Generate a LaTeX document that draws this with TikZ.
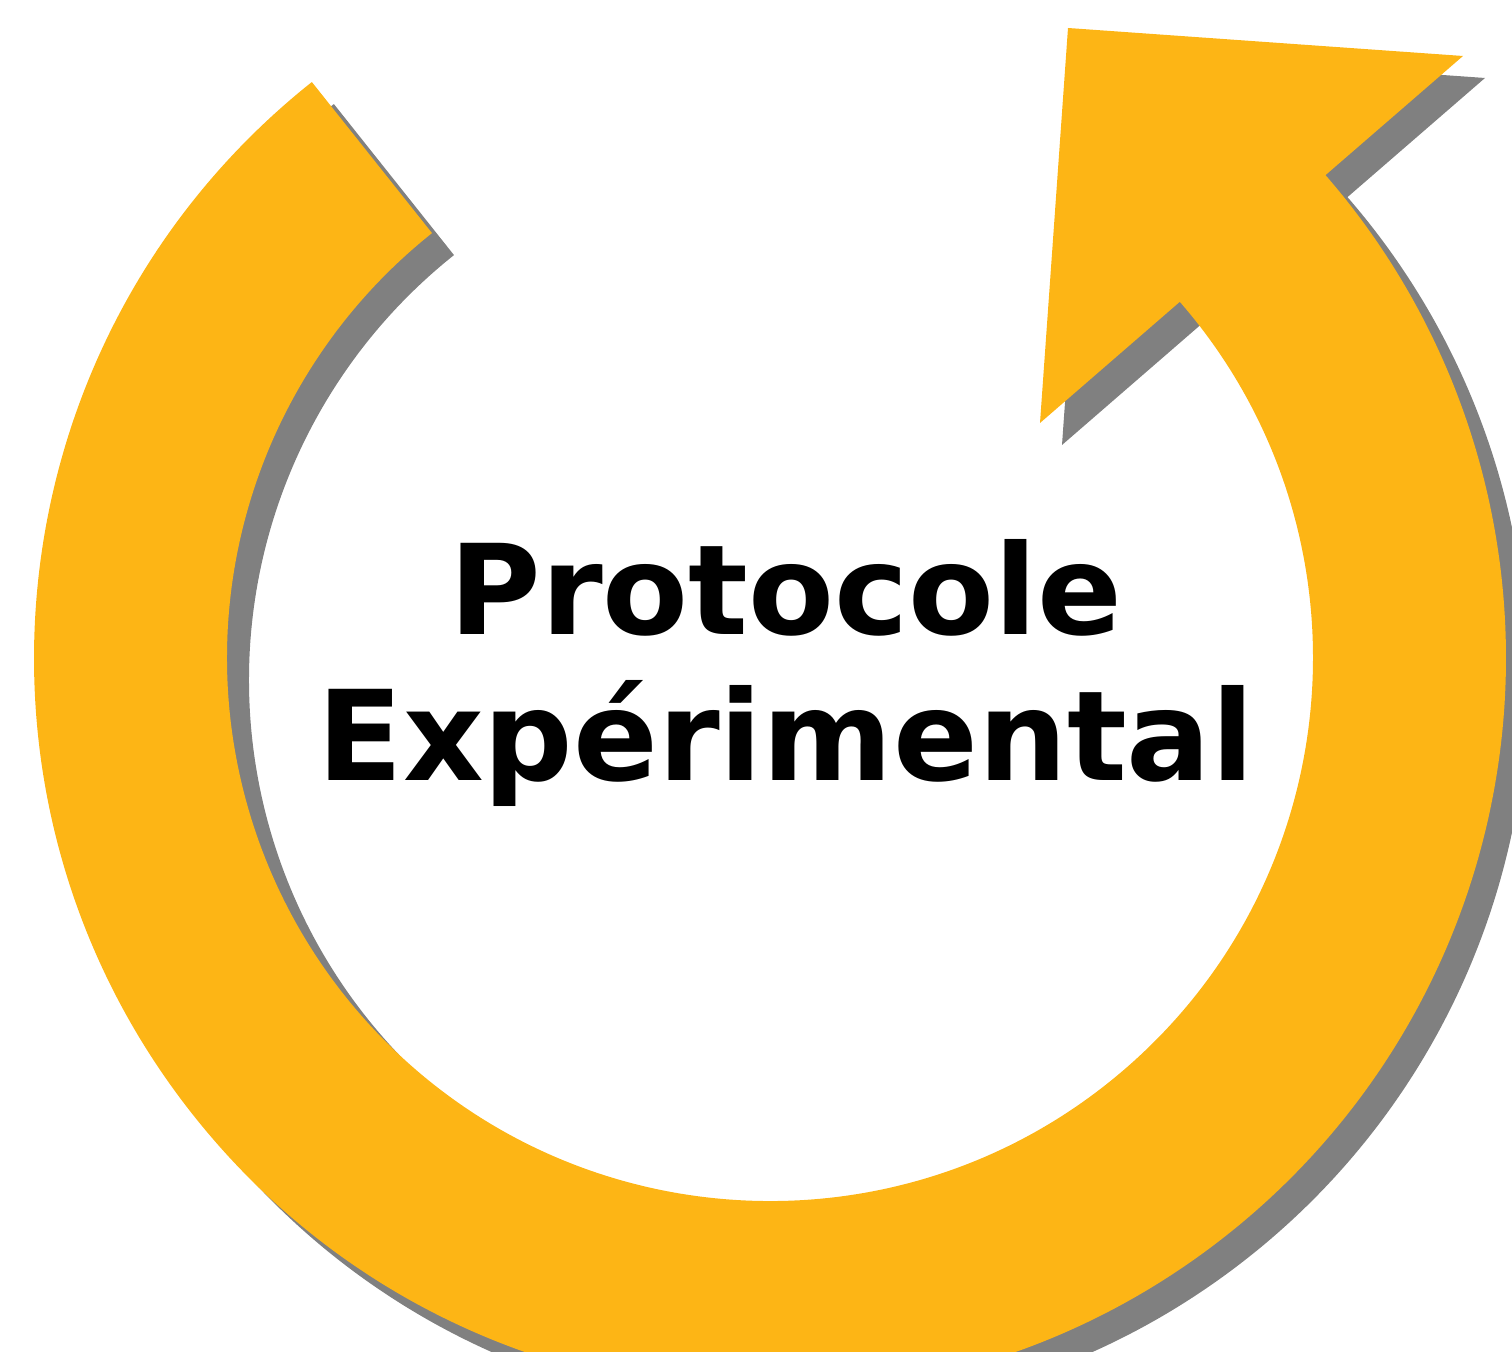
\documentclass[tikz,border=0pt]{standalone}
\usepackage{fontspec}
\setmainfont{DejaVu Sans}
\usepackage{xcolor}
\usepackage{tikz}
\usetikzlibrary{calc,positioning}

\definecolor{jaune}{HTML}{FDB515}
\definecolor{ombre}{HTML}{808080}

% fleche circulaire, centre (7.70,-6.58)
\newcommand{\flechecycle}{(7.70,-6.58) ++(128.5:7.36) arc[start angle=128.5, end angle=401, radius=7.36]
		-- (14.63,-0.56) -- (10.68,-0.28) -- (10.40,-4.23)
		-- (11.798,-3.018) arc[start angle=401, end angle=128.5, radius=5.43] -- cycle}

\begin{document}
\begin{tikzpicture}[titre/.style = {align=center, font=\fontsize{35.6}{41.5}\selectfont\bfseries}]
		\useasboundingbox (0,0) rectangle (15.12,-13.52);
		\clip (0,0) rectangle (15.12,-13.52);

		\begin{scope}[xshift=0.22cm, yshift=-0.22cm]
			\fill[ombre] \flechecycle;
		\end{scope}
		\fill[jaune] \flechecycle;

		\node[titre] (protocole) at (7.86,-6.73) {Protocole\\Expérimental};
	\end{tikzpicture}
\end{document}
